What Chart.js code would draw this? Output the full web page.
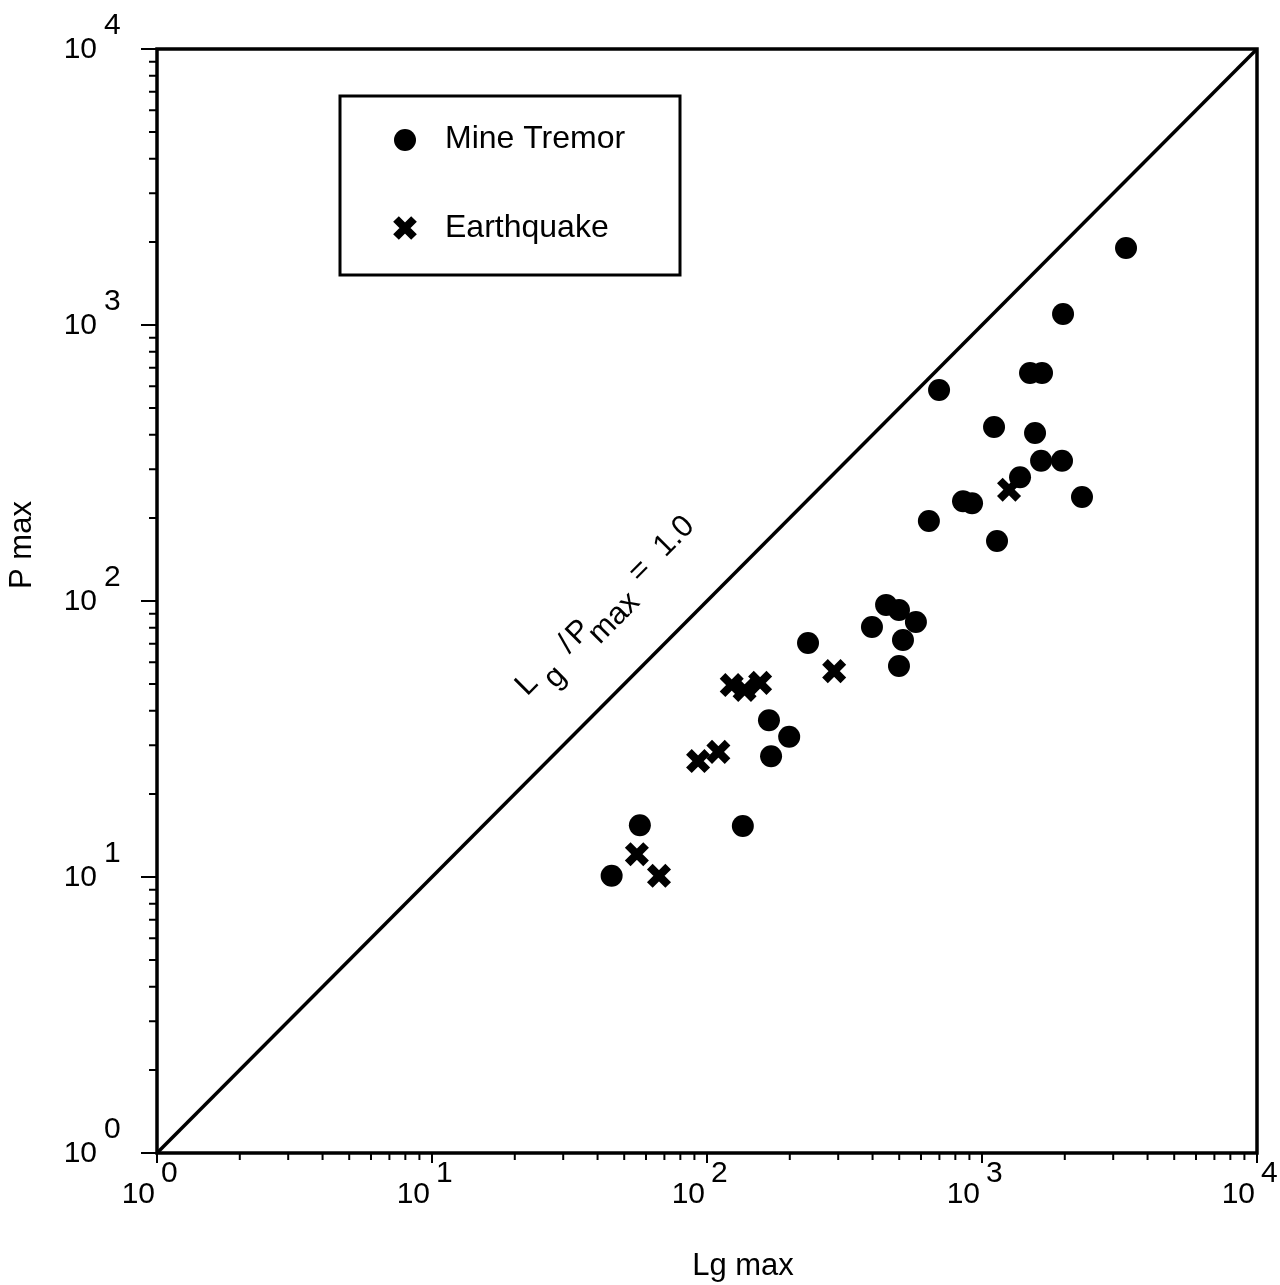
<!DOCTYPE html>
<html>
<head>
<meta charset="utf-8">
<script src="https://cdn.jsdelivr.net/npm/chart.js@4.4.1/dist/chart.umd.min.js"></script>
<style>
  html, body { margin: 0; padding: 0; background: #fff; }
  #wrap { width: 1280px; height: 1285px; }
</style>
</head>
<body>
<div id="wrap"><canvas id="chart" width="1280" height="1285"></canvas></div>
<script>
// values (Lg max vs P max)
const tremorLg = [45, 57, 135, 168, 171, 199, 233, 398, 448, 499, 516, 499, 575, 641, 698, 853, 920, 1106, 1134, 1375, 1495, 1653, 1559, 1640, 1954, 1971, 2310, 3340];
const tremorP  = [10.1, 15.4, 15.3, 37.0, 27.4, 32.2, 70.4, 80.5, 96.8, 92.8, 72.2, 58.1, 83.9, 195, 581, 230, 226, 427, 165, 281, 670, 670, 406, 322, 322, 1096, 238, 1901];
const quakeLg  = [55.6, 66.9, 92.8, 110, 123, 137, 156, 290, 1254];
const quakeP   = [12.1, 10.1, 26.3, 28.4, 49.6, 47.6, 50.5, 55.7, 253];
const ratioLine = [1, 10000];
const decadeExps = [0, 1, 2, 3, 4];
const minorMults = [2, 3, 4, 5, 6, 7, 8, 9];

const FONT = "'Liberation Sans', Arial, Helvetica, sans-serif";

const toPts = (xs, ys) => xs.map((x, i) => ({ x: x, y: ys[i] }));

const decorPlugin = {
    id: 'decor',
    afterDraw(chart) {
        const ctx = chart.ctx;
        const xs = chart.scales.x, ys = chart.scales.y;
        const a = chart.chartArea;
        ctx.save();
        ctx.strokeStyle = '#000';
        ctx.fillStyle = '#000';

        // frame
        ctx.lineWidth = 3.5;
        ctx.strokeRect(a.left, a.top, a.right - a.left, a.bottom - a.top);

        // ticks (outside, left and bottom only)
        ctx.lineWidth = 2;
        decadeExps.forEach(e => {
            const v = Math.pow(10, e);
            const px = xs.getPixelForValue(v), py = ys.getPixelForValue(v);
            ctx.beginPath();
            ctx.moveTo(a.left, py); ctx.lineTo(a.left - 16, py);
            ctx.moveTo(px, a.bottom); ctx.lineTo(px, a.bottom + 10);
            ctx.stroke();
            if (e < 4) {
                minorMults.forEach(m => {
                    const mv = v * m;
                    const mx = xs.getPixelForValue(mv), my = ys.getPixelForValue(mv);
                    ctx.beginPath();
                    ctx.moveTo(a.left, my); ctx.lineTo(a.left - 8, my);
                    ctx.moveTo(mx, a.bottom); ctx.lineTo(mx, a.bottom + 7);
                    ctx.stroke();
                });
            }
        });

        // tick labels 10^n
        ctx.font = '30px ' + FONT;
        ctx.textBaseline = 'alphabetic';
        decadeExps.forEach(e => {
            const v = Math.pow(10, e);
            const py = ys.getPixelForValue(v);
            ctx.textAlign = 'right';
            ctx.fillText('10', 97, py + 9);
            ctx.textAlign = 'left';
            ctx.fillText(String(e), 104, py - 15);

            const px = xs.getPixelForValue(v);
            ctx.textAlign = 'right';
            ctx.fillText('10', px - 2, a.bottom + 50);
            ctx.textAlign = 'left';
            ctx.fillText(String(e), px + 4, a.bottom + 29);
        });

        // axis titles
        ctx.font = '31px ' + FONT;
        ctx.textAlign = 'center';
        ctx.textBaseline = 'middle';
        ctx.fillText('Lg max', 743, 1266);
        ctx.save();
        ctx.translate(22, 545);
        ctx.rotate(-Math.PI / 2);
        ctx.fillText('P max', 0, 0);
        ctx.restore();

        // legend box
        ctx.lineWidth = 3;
        ctx.strokeRect(340, 96, 340, 179);
        ctx.beginPath();
        ctx.arc(405, 140, 11, 0, Math.PI * 2);
        ctx.fill();
        ctx.lineWidth = 8;
        ctx.beginPath();
        ctx.moveTo(396, 219); ctx.lineTo(414, 237);
        ctx.moveTo(414, 219); ctx.lineTo(396, 237);
        ctx.stroke();
        ctx.font = '32px ' + FONT;
        ctx.textAlign = 'left';
        ctx.textBaseline = 'middle';
        ctx.fillText('Mine Tremor', 445, 139);
        ctx.fillText('Earthquake', 445, 228);

        // label along the 1:1 line
        const x0 = xs.getPixelForValue(ratioLine[0]), y0 = ys.getPixelForValue(ratioLine[0]);
        const x1 = xs.getPixelForValue(ratioLine[1]), y1 = ys.getPixelForValue(ratioLine[1]);
        const ang = Math.atan2(y1 - y0, x1 - x0);
        const ax = xs.getPixelForValue(31.6), ay = ys.getPixelForValue(31.6);
        ctx.save();
        ctx.translate(ax, ay);
        ctx.rotate(ang);
        ctx.textBaseline = 'alphabetic';
        ctx.textAlign = 'left';
        ctx.font = '31px ' + FONT;
        const base = -60, sub = -45;
        ctx.fillText('L', 0, base);
        ctx.fillText('g', 25, sub);
        ctx.fillText('/', 60, base);
        ctx.fillText('P', 72, base);
        ctx.fillText('max', 88, sub);
        ctx.fillText('=', 160, base);
        ctx.fillText('1.0', 196, base);
        ctx.restore();

        ctx.restore();
    }
};

const ctx = document.getElementById('chart').getContext('2d');
new Chart(ctx, {
    type: 'scatter',
    data: {
        datasets: [
            {
                type: 'line',
                label: 'Lg/Pmax = 1.0',
                data: toPts(ratioLine, ratioLine),
                borderColor: '#000',
                borderWidth: 3.5,
                pointRadius: 0,
                fill: false
            },
            {
                label: 'Mine Tremor',
                data: toPts(tremorLg, tremorP),
                pointStyle: 'circle',
                pointRadius: 11,
                backgroundColor: '#000',
                borderColor: '#000',
                borderWidth: 0
            },
            {
                label: 'Earthquake',
                data: toPts(quakeLg, quakeP),
                pointStyle: 'crossRot',
                pointRadius: 13,
                borderColor: '#000',
                borderWidth: 8
            }
        ]
    },
    options: {
        responsive: false,
        animation: false,
        layout: { padding: { top: 49, right: 23, left: 0, bottom: 0 } },
        plugins: { legend: { display: false }, tooltip: { enabled: false } },
        scales: {
            x: {
                type: 'logarithmic',
                min: 1, max: 10000,
                ticks: { display: false },
                grid: { display: false },
                border: { display: false },
                afterFit: s => { s.height = 132; }
            },
            y: {
                type: 'logarithmic',
                min: 1, max: 10000,
                ticks: { display: false },
                grid: { display: false },
                border: { display: false },
                afterFit: s => { s.width = 157; }
            }
        }
    },
    plugins: [decorPlugin]
});
</script>
</body>
</html>
